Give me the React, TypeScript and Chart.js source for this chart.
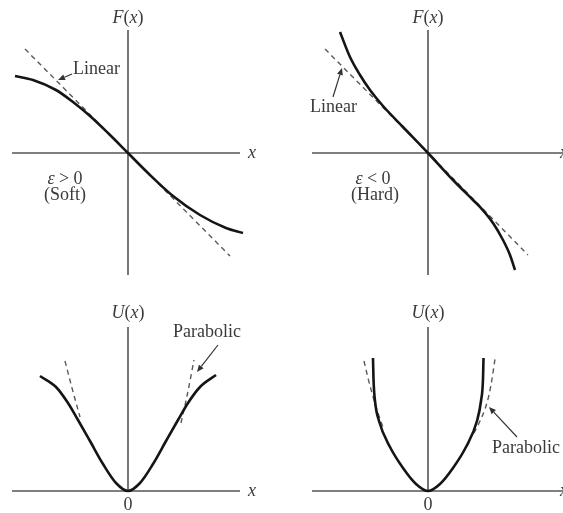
import React, { useEffect, useRef } from "react";
import { Chart, registerables } from "chart.js";

Chart.register(...registerables);

// ---- Data (panel units, origin at the axes crossing) ----
// Top-left: soft spring force F(x), epsilon > 0
const softForceX = [-113, -95, -72, -55, -38, -20, 0, 20, 45, 72, 98, 115];
const softForceY = [77, 73, 63, 51, 37, 20, 0, -20, -43, -62, -75, -80];
const softLinearX = [-103, 0, 102];
const softLinearY = [104, 0, -103];

// Top-right: hard spring force F(x), epsilon < 0
const hardForceX = [-88, -78, -68, -58, -45, -25, 0, 25, 45, 52, 65, 75, 82, 87];
const hardForceY = [121, 96, 78, 63, 47, 26, 0, -27, -47, -54, -70, -87, -102, -117];
const hardLinearX = [-103, 0, 100];
const hardLinearY = [104, 0, -102];

// Bottom-left: soft potential U(x)
const softPotX = [-88, -72, -60, -50, -38, -25, -12, 0, 12, 25, 38, 50, 60, 72, 88];
const softPotY = [115, 104, 88, 71, 50, 27, 8, 0, 8, 27, 50, 71, 88, 104, 116];
const softParabLeftX = [-63, -56, -48];
const softParabLeftY = [130, 103, 74];
const softParabRightX = [53, 59, 66];
const softParabRightY = [68, 95, 131];

// Bottom-right: hard potential U(x)
const hardPotX = [-55, -54.5, -53, -49, -38, -25, -12, 0, 12, 25, 38, 49, 53, 55, 55.5];
const hardPotY = [133, 112, 90, 70, 44, 23, 7, 0, 7, 23, 44, 70, 90, 112, 133];
const hardParabLeftX = [-64, -60, -56, -50, -44];
const hardParabLeftY = [130, 113, 98, 78, 61];
const hardParabRightX = [46, 52, 57, 61, 64, 67];
const hardParabRightY = [58, 70, 82, 96, 112, 132];

// Text
const forceAxisLabel = [
  { t: "F", i: true },
  { t: "(", i: false },
  { t: "x", i: true },
  { t: ")", i: false },
];
const potAxisLabel = [
  { t: "U", i: true },
  { t: "(", i: false },
  { t: "x", i: true },
  { t: ")", i: false },
];
const xAxisLabel = [{ t: "x", i: true }];
const zeroLabel = [{ t: "0", i: false }];
const linearLabel = [{ t: "Linear", i: false }];
const parabolicLabel = [{ t: "Parabolic", i: false }];
const softCond = [
  { t: "ε", i: true },
  { t: " > 0", i: false },
];
const hardCond = [
  { t: "ε", i: true },
  { t: " < 0", i: false },
];
const softName = [{ t: "(Soft)", i: false }];
const hardName = [{ t: "(Hard)", i: false }];

type Seg = { t: string; i: boolean };
type Label = { segs: Seg[]; x: number; y: number; align: "left" | "center" };
type Arrow = { x1: number; y1: number; x2: number; y2: number };
type Series = { xs: number[]; ys: number[] };
type Panel = {
  left: number;
  top: number;
  width: number;
  height: number;
  xMin: number;
  xMax: number;
  yMin: number;
  yMax: number;
  hAxis: [number, number];
  vAxis: [number, number];
  solids: Series[];
  dashed: Series[];
  labels: Label[];
  arrows: Arrow[];
};

const FONT_FAMILY = "'Liberation Serif', 'DejaVu Serif', serif";
const FONT_SIZE = 18;
const TEXT_COLOR = "#3a3a3a";
const AXIS_COLOR = "#555555";
const SOLID_COLOR = "#151515";
const DASH_COLOR = "#5a5a5a";

const panels: Panel[] = [
  {
    left: 0, top: 0, width: 281, height: 280,
    xMin: -128, xMax: 153, yMin: -127, yMax: 153,
    hAxis: [-116, 112], vAxis: [-122, 123],
    solids: [{ xs: softForceX, ys: softForceY }],
    dashed: [{ xs: softLinearX, ys: softLinearY }],
    labels: [
      { segs: forceAxisLabel, x: 0, y: 130, align: "center" },
      { segs: xAxisLabel, x: 120, y: -5, align: "left" },
      { segs: linearLabel, x: -55, y: 79, align: "left" },
      { segs: softCond, x: -63, y: -31, align: "center" },
      { segs: softName, x: -63, y: -47, align: "center" },
    ],
    arrows: [{ x1: -56, y1: 79, x2: -70, y2: 73 }],
  },
  {
    left: 281, top: 0, width: 282, height: 280,
    xMin: -147, xMax: 135, yMin: -127, yMax: 153,
    hAxis: [-116, 135], vAxis: [-122, 123],
    solids: [{ xs: hardForceX, ys: hardForceY }],
    dashed: [{ xs: hardLinearX, ys: hardLinearY }],
    labels: [
      { segs: forceAxisLabel, x: 0, y: 130, align: "center" },
      { segs: xAxisLabel, x: 132, y: -5, align: "left" },
      { segs: linearLabel, x: -118, y: 41, align: "left" },
      { segs: hardCond, x: -55, y: -31, align: "center" },
      { segs: hardName, x: -53, y: -47, align: "center" },
    ],
    arrows: [{ x1: -95, y1: 56, x2: -86, y2: 85 }],
  },
  {
    left: 0, top: 280, width: 281, height: 233,
    xMin: -128, xMax: 153, yMin: -22, yMax: 211,
    hAxis: [-116, 112], vAxis: [0, 164],
    solids: [{ xs: softPotX, ys: softPotY }],
    dashed: [
      { xs: softParabLeftX, ys: softParabLeftY },
      { xs: softParabRightX, ys: softParabRightY },
    ],
    labels: [
      { segs: potAxisLabel, x: 0, y: 173, align: "center" },
      { segs: xAxisLabel, x: 120, y: -5, align: "left" },
      { segs: zeroLabel, x: 0, y: -19, align: "center" },
      { segs: parabolicLabel, x: 45, y: 154, align: "left" },
    ],
    arrows: [{ x1: 90, y1: 146, x2: 69, y2: 119 }],
  },
  {
    left: 281, top: 280, width: 282, height: 233,
    xMin: -147, xMax: 135, yMin: -22, yMax: 211,
    hAxis: [-116, 135], vAxis: [0, 164],
    solids: [{ xs: hardPotX, ys: hardPotY }],
    dashed: [
      { xs: hardParabLeftX, ys: hardParabLeftY },
      { xs: hardParabRightX, ys: hardParabRightY },
    ],
    labels: [
      { segs: potAxisLabel, x: 0, y: 173, align: "center" },
      { segs: xAxisLabel, x: 132, y: -5, align: "left" },
      { segs: zeroLabel, x: 0, y: -19, align: "center" },
      { segs: parabolicLabel, x: 64, y: 38, align: "left" },
    ],
    arrows: [{ x1: 89, y1: 54, x2: 61, y2: 84 }],
  },
];

function fontFor(italic: boolean) {
  return `${italic ? "italic " : ""}${FONT_SIZE}px ${FONT_FAMILY}`;
}

const decorPlugin = {
  id: "decor",
  beforeDatasetsDraw(chart: any, _args: any, opts: any) {
    const p: Panel = opts.panel;
    const xs = chart.scales.x;
    const ys = chart.scales.y;
    const ctx = chart.ctx;
    ctx.save();
    ctx.strokeStyle = AXIS_COLOR;
    ctx.lineWidth = 1.6;
    ctx.beginPath();
    const y0 = ys.getPixelForValue(0);
    ctx.moveTo(xs.getPixelForValue(p.hAxis[0]), y0);
    ctx.lineTo(xs.getPixelForValue(p.hAxis[1]), y0);
    const x0 = xs.getPixelForValue(0);
    ctx.moveTo(x0, ys.getPixelForValue(p.vAxis[0]));
    ctx.lineTo(x0, ys.getPixelForValue(p.vAxis[1]));
    ctx.stroke();
    ctx.restore();
  },
  afterDatasetsDraw(chart: any, _args: any, opts: any) {
    const p: Panel = opts.panel;
    const xs = chart.scales.x;
    const ys = chart.scales.y;
    const ctx = chart.ctx;
    ctx.save();
    ctx.fillStyle = TEXT_COLOR;
    ctx.textBaseline = "alphabetic";
    ctx.textAlign = "left";
    for (const lab of p.labels) {
      let total = 0;
      const widths = lab.segs.map((s) => {
        ctx.font = fontFor(s.i);
        const w = ctx.measureText(s.t).width;
        total += w;
        return w;
      });
      let px = xs.getPixelForValue(lab.x);
      if (lab.align === "center") px -= total / 2;
      const py = ys.getPixelForValue(lab.y);
      lab.segs.forEach((s, k) => {
        ctx.font = fontFor(s.i);
        ctx.fillText(s.t, px, py);
        px += widths[k];
      });
    }
    ctx.strokeStyle = "#333333";
    ctx.fillStyle = "#333333";
    ctx.lineWidth = 1.2;
    for (const a of p.arrows) {
      const sx = xs.getPixelForValue(a.x1);
      const sy = ys.getPixelForValue(a.y1);
      const ex = xs.getPixelForValue(a.x2);
      const ey = ys.getPixelForValue(a.y2);
      const ang = Math.atan2(ey - sy, ex - sx);
      const len = 7;
      const hw = 3;
      const bx = ex - len * Math.cos(ang);
      const by = ey - len * Math.sin(ang);
      ctx.beginPath();
      ctx.moveTo(sx, sy);
      ctx.lineTo(bx, by);
      ctx.stroke();
      ctx.beginPath();
      ctx.moveTo(ex, ey);
      ctx.lineTo(bx + hw * Math.sin(ang), by - hw * Math.cos(ang));
      ctx.lineTo(bx - hw * Math.sin(ang), by + hw * Math.cos(ang));
      ctx.closePath();
      ctx.fill();
    }
    ctx.restore();
  },
};

function toPoints(s: Series) {
  return s.xs.map((x, i) => ({ x, y: s.ys[i] }));
}

function PanelChart({ panel }: { panel: Panel }) {
  const ref = useRef<HTMLCanvasElement | null>(null);
  useEffect(() => {
    if (!ref.current) return;
    const datasets: any[] = [];
    panel.solids.forEach((s) =>
      datasets.push({
        data: toPoints(s),
        borderColor: SOLID_COLOR,
        borderWidth: 2.6,
        cubicInterpolationMode: "monotone",
        pointRadius: 0,
        fill: false,
        order: 0,
      })
    );
    panel.dashed.forEach((s) =>
      datasets.push({
        data: toPoints(s),
        borderColor: DASH_COLOR,
        borderWidth: 1.4,
        borderDash: [5, 4],
        cubicInterpolationMode: "monotone",
        pointRadius: 0,
        fill: false,
        order: 1,
      })
    );
    const chart = new Chart(ref.current, {
      type: "line",
      data: { datasets },
      options: {
        animation: false,
        responsive: false,
        maintainAspectRatio: false,
        events: [],
        layout: { padding: 0 },
        plugins: {
          legend: { display: false },
          tooltip: { enabled: false },
          decor: { panel },
        } as any,
        scales: {
          x: { type: "linear", min: panel.xMin, max: panel.xMax, display: false },
          y: { type: "linear", min: panel.yMin, max: panel.yMax, display: false },
        },
      },
      plugins: [decorPlugin as any],
    });
    return () => chart.destroy();
  }, [panel]);
  return (
    <canvas
      ref={ref}
      width={panel.width}
      height={panel.height}
      style={{
        position: "absolute",
        left: panel.left,
        top: panel.top,
        width: panel.width,
        height: panel.height,
      }}
    />
  );
}

export default function App() {
  return (
    <div
      style={{
        position: "absolute",
        left: 0,
        top: 0,
        width: 563,
        height: 513,
        background: "#ffffff",
        overflow: "hidden",
      }}
    >
      {panels.map((p, i) => (
        <PanelChart key={i} panel={p} />
      ))}
    </div>
  );
}
